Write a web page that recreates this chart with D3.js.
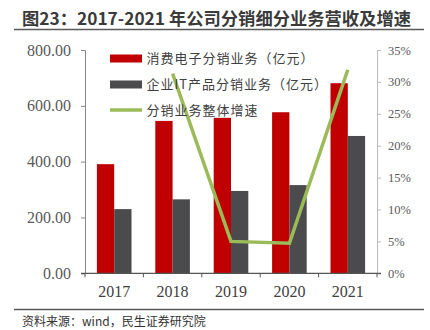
<!DOCTYPE html>
<html><head><meta charset="utf-8">
<script src="https://cdn.jsdelivr.net/npm/d3@7"></script>
<style>body{margin:0;background:#fff}svg{display:block}</style>
</head><body>
<script>
const years = ["2017","2018","2019","2020","2021"];
const consumerElec = [391, 546, 557, 577, 681];
const enterpriseIT = [230, 265, 295, 316, 492];
const growthYears = ["2018","2019","2020","2021"];
const growth = [0.313, 0.050, 0.047, 0.319];
const seriesNames = ["消费电子分销业务（亿元）","企业IT产品分销业务（亿元）","分销业务整体增速"];
const leftTicks = [0,200,400,600,800];
const rightTicks = [0,0.05,0.10,0.15,0.20,0.25,0.30,0.35];
const colors = ["#C00000","#4B4B4D","#9BBB59"];

const W=430,H=330;
const svg=d3.select("body").append("svg").attr("width",W).attr("height",H);
const L=85,R=377,T=50,B=273.3;

// title
svg.append("text").attr("x",22).attr("y",25).attr("font-family","'Noto Sans CJK SC'")
  .attr("font-weight","bold").attr("font-size",17).attr("fill","#3a3a3a")
  .attr("textLength",389).attr("lengthAdjust","spacingAndGlyphs")
  .text("图23：2017-2021 年公司分销细分业务营收及增速");
svg.append("line").attr("x1",14).attr("x2",424).attr("y1",29.5).attr("y2",29.5).attr("stroke","#5a5a5a").attr("stroke-width",1.5);
svg.append("line").attr("x1",14).attr("x2",424).attr("y1",309.5).attr("y2",309.5).attr("stroke","#5a5a5a").attr("stroke-width",1.5);
svg.append("text").attr("x",22).attr("y",326).attr("font-family","'Noto Sans CJK SC'")
  .attr("font-size",12).attr("fill","#333").text("资料来源：wind，民生证券研究院");

const x0=d3.scaleBand().domain(years).range([L,R]).paddingInner(0.4075).paddingOuter(0.20375);
const x1=d3.scaleBand().domain([0,1]).range([0,x0.bandwidth()]);
const yL=d3.scaleLinear().domain([0,800]).range([B,T]);
const yR=d3.scaleLinear().domain([0,0.35]).range([B,T]);

// bars
[consumerElec,enterpriseIT].forEach((vals,si)=>{
  svg.append("g").selectAll("rect").data(years).join("rect")
    .attr("x",d=>x0(d)+x1(si)).attr("width",x1.bandwidth())
    .attr("y",(d,i)=>yL(vals[i])).attr("height",(d,i)=>B-yL(vals[i]))
    .attr("fill",colors[si]);
});

// left axis
const gl=svg.append("g").attr("transform",`translate(${L},0)`)
  .call(d3.axisLeft(yL).tickValues(leftTicks).tickFormat(d3.format(".2f")).tickSize(4).tickPadding(10));
gl.select(".domain").attr("stroke","#888");
gl.selectAll(".tick line").attr("stroke","#888");
gl.selectAll("text").attr("font-family","'Liberation Serif'").attr("font-size",16).attr("fill","#595959");

// right axis
const gr=svg.append("g").attr("transform",`translate(${R},0)`)
  .call(d3.axisRight(yR).tickValues(rightTicks).tickFormat(d3.format(".0%")).tickSize(4).tickPadding(7));
gr.select(".domain").attr("stroke","#bbb");
gr.selectAll(".tick line").attr("stroke","#bbb");
gr.selectAll("text").attr("font-family","'Liberation Serif'").attr("font-size",12.5).attr("fill","#595959");

// bottom axis
const gb=svg.append("g").attr("transform",`translate(0,${B})`)
  .call(d3.axisBottom(x0).tickSize(0).tickPadding(12));
gb.select(".domain").attr("stroke","#555").attr("stroke-width",1.2).attr("d",`M${L-4},0H${R+4}`);
gb.selectAll("text").attr("font-family","'Liberation Serif'").attr("font-size",16).attr("fill","#404040");
const bounds=d3.range(years.length+1).map(i=>x0.range()[0]+i*x0.step());
gb.selectAll(".bt").data(bounds).join("line").attr("class","bt")
  .attr("x1",d=>d).attr("x2",d=>d).attr("y1",0).attr("y2",4).attr("stroke","#555");

// growth line
const line=d3.line().x(d=>x0(d.y)+x0.bandwidth()/2).y(d=>yR(d.v));
svg.append("path").datum(growthYears.map((y,i)=>({y,v:growth[i]})))
  .attr("d",line).attr("fill","none").attr("stroke",colors[2]).attr("stroke-width",3.5);

// legend
const lg=svg.append("g");
const rows=[58.5,84.5,110];
seriesNames.forEach((n,i)=>{
  if(i<2){
    lg.append("rect").attr("x",110).attr("y",rows[i]-4).attr("width",32).attr("height",8).attr("fill",colors[i]);
  } else {
    lg.append("line").attr("x1",110).attr("x2",142).attr("y1",rows[i]).attr("y2",rows[i]).attr("stroke",colors[i]).attr("stroke-width",3.5);
  }
  lg.append("text").attr("x",146.5).attr("y",rows[i]).attr("dy","0.35em")
    .attr("font-family","'Noto Sans CJK SC'").attr("font-size",13).attr("letter-spacing",1)
    .attr("fill","#404040").text(n);
});
</script>
</body></html>
